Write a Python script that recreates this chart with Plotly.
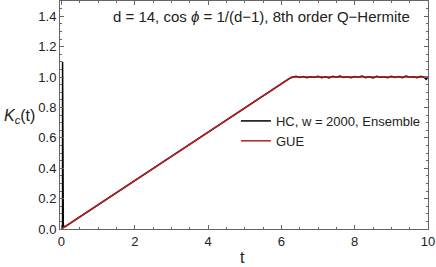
import plotly.graph_objects as go

# Hand-read data
hc_t = [0.03, 0.03, 0.05, 0.1, 0.2, 0.4, 0.6, 0.8, 1.0, 1.2, 1.4, 1.6, 1.8, 2.0, 2.2, 2.4, 2.6, 2.8,
        3.0, 3.2, 3.4, 3.6, 3.8, 4.0, 4.2, 4.4, 4.6, 4.8, 5.0, 5.2, 5.4, 5.6, 5.8, 6.0, 6.2, 6.3,
        6.4, 6.5, 6.6, 6.7, 6.8, 6.9, 7.0, 7.1, 7.2, 7.3, 7.4, 7.5, 7.6, 7.7, 7.8, 7.9, 8.0,
        8.1, 8.2, 8.3, 8.4, 8.5, 8.6, 8.7, 8.8, 8.9, 9.0, 9.1, 9.2, 9.3, 9.4, 9.5, 9.6, 9.7,
        9.8, 9.9, 9.95, 10.0]
hc_k = [0.0, 1.1, 0.02, 0.016, 0.032, 0.064, 0.096, 0.126, 0.160, 0.190, 0.224, 0.254, 0.287,
        0.318, 0.351, 0.381, 0.415, 0.445, 0.479, 0.508, 0.543, 0.571, 0.607, 0.635, 0.670,
        0.699, 0.735, 0.762, 0.798, 0.826, 0.862, 0.889, 0.926, 0.953, 0.988, 0.998,
        1.004, 0.997, 1.003, 0.995, 1.002, 0.998, 1.005, 0.996, 1.001, 0.994, 1.004, 0.999,
        1.006, 0.997, 1.002, 0.995, 1.003, 0.998, 1.007, 0.996, 1.001, 0.994, 1.004, 0.999,
        1.002, 0.996, 1.005, 0.997, 1.003, 0.995, 1.006, 0.998, 1.001, 0.996, 1.004, 0.997,
        0.985, 1.0]
gue_t = [0.0, 6.283, 10.0]
gue_k = [0.0, 1.0, 1.0]

title_text = "d = 14, cos <i>ϕ</i> = 1/(d\u22121), 8th order Q\u2212Hermite"

fig = go.Figure()
fig.add_trace(go.Scatter(x=hc_t, y=hc_k, mode="lines", name="HC, w = 2000, Ensemble",
                         line=dict(color="black", width=1.5)))
fig.add_trace(go.Scatter(x=gue_t, y=gue_k, mode="lines", name="GUE",
                         line=dict(color="#b41f1f", width=1.5)))

axis_common = dict(showline=True, linecolor="#666666", linewidth=1, mirror="allticks",
                   ticks="inside", ticklen=4, tickcolor="#666666", showgrid=False, zeroline=False,
                   tickfont=dict(family="Liberation Sans, Arial", size=13, color="#222222"))
fig.update_xaxes(range=[-0.04, 10.0], dtick=2, tick0=0, tickformat="d",
                 minor=dict(dtick=0.5, ticks="inside", ticklen=2, tickcolor="#666666"),
                 **axis_common)
fig.update_yaxes(range=[0, 1.5], dtick=0.2, tick0=0, tickformat=".1f",
                 minor=dict(dtick=0.05, ticks="inside", ticklen=2, tickcolor="#666666"),
                 **axis_common)

fig.update_layout(
    width=436, height=267,
    margin=dict(l=60, r=8, t=1, b=38),
    plot_bgcolor="white", paper_bgcolor="white",
    font=dict(family="Liberation Sans, Arial", size=13, color="#222222"),
    showlegend=True,
    legend=dict(x=0.478, y=0.43, xanchor="left", yanchor="middle", bgcolor="rgba(0,0,0,0)",
                itemwidth=30, tracegroupgap=0, font=dict(size=13)),
    annotations=[
        dict(text=title_text, x=0.957, y=0.93, xref="paper", yref="paper", xanchor="right",
             yanchor="middle", showarrow=False, font=dict(size=15, color="#222222")),
        dict(text="<i>K</i><sub><i>c</i></sub>(t)", x=-0.157, y=0.495, xref="paper", yref="paper",
             xanchor="left", yanchor="middle", showarrow=False, font=dict(size=16, color="#222222")),
        dict(text="t", x=0.495, y=-0.127, xref="paper", yref="paper", xanchor="center",
             yanchor="middle", showarrow=False, font=dict(size=16, color="#222222")),
    ],
)

fig.write_html("out.html", config={"displayModeBar": False},
               post_script="document.body.style.margin='0';")
